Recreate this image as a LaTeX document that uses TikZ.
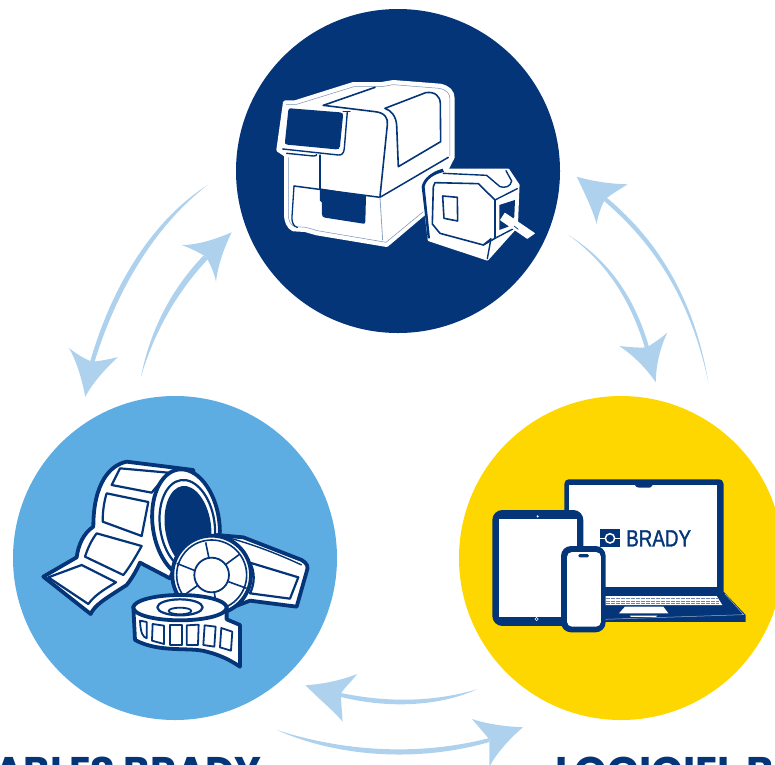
\documentclass[tikz,border=0pt]{standalone}
\usepackage{fontspec}
\newfontfamily\headfont{Poppins}
\newfontfamily\logofont[FakeStretch=0.8,FakeBold=1.2]{Liberation Sans}
\definecolor{navy}{HTML}{043578}
\definecolor{skyb}{HTML}{5DADE2}
\definecolor{yell}{HTML}{FFD700}
\definecolor{flow}{HTML}{AED2EE}
\tikzset{
  disc/.style={circle,minimum size=324pt,inner sep=0pt,outer sep=0pt,fill=#1},
  flowshape/.style={fill=flow,draw=none},
  ln/.style={draw=navy,line width=1.4pt,line join=round,line cap=round},
  roll/.style={draw=navy,line width=3.8pt,line join=round,fill=white},
  rollthin/.style={draw=navy,line width=2.2pt,line join=round,fill=white},
  head/.style={text=navy,inner sep=0pt,font=\headfont\bfseries\fontsize{40}{40}\selectfont},
  zoomA/.style={shift={(260,70)},x=0.3333pt,y=-0.3333pt},
  zoomB/.style={shift={(30,450)},x=0.3333pt,y=-0.3333pt},
  zoomC/.style={shift={(485,470)},x=0.3333pt,y=-0.3333pt},
}
\begin{document}
\begin{tikzpicture}[x=1pt,y=-1pt]
\useasboundingbox (0,0) rectangle (775,764);
\clip (0,0) rectangle (775,764);
\node[disc=navy] (top) at (398,171) {};
\node[disc=skyb] (left) at (175,558) {};
\node[disc=yell] (right) at (621,558) {};

% ---------- flow arrows
% left outer
\fill[flowshape] (207.7,185) .. controls (160,215) and (115,275) .. (90,362) -- (94.5,362) .. controls (120,279) and (163,219) .. cycle;
\fill[flowshape] (69,348) .. controls (78,355) and (85,359) .. (92,361.7) .. controls (101,361) and (110,359) .. (118,357) .. controls (104,370) and (92,384) .. (85.3,396.7) .. controls (82,380) and (77,362) .. cycle;
% left inner
\fill[flowshape] (141,376.7) .. controls (150,330) and (172,288) .. (204,255) -- (208,259) .. controls (176,293) and (154,333) .. cycle;
\fill[flowshape] (181.7,245) .. controls (198,245) and (216,239) .. (231.7,232.3) .. controls (224,248) and (218,265) .. (216,281.7) .. controls (214,272) and (210,264) .. (206,256.7) .. controls (198,252) and (190,248) .. cycle;
% right outer
\fill[flowshape] (708.3,382.3) .. controls (690,295) and (650,240) .. (603.5,200.5) -- (606.5,197.5) .. controls (654,237) and (694,295) .. cycle;
\fill[flowshape] (627.7,184.3) .. controls (610,184) and (592,181) .. (576.7,176.7) .. controls (584,192) and (592,208) .. (596.7,224) .. controls (598,215) and (601,207) .. (605,199.3) .. controls (612,194) and (620,189) .. cycle;
% right inner
\fill[flowshape] (568.3,235) .. controls (610,265) and (632,305) .. (645,348) -- (649,347) .. controls (636,302) and (612,262) .. cycle;
\fill[flowshape] (619.3,346) .. controls (629,347) and (638,348) .. (646.7,347.3) .. controls (654,343) and (661,338) .. (667.3,332.7) .. controls (660,348) and (656,365) .. (655.7,382.3) .. controls (646,368) and (634,356) .. cycle;
% bottom upper
\fill[flowshape] (477,689.3) .. controls (430,703) and (385,702) .. (341,693) -- (341,697) .. controls (390,709) and (440,706) .. cycle;
\fill[flowshape] (357,674) .. controls (342,680) and (324,684) .. (305.5,685.3) .. controls (320,700) and (335,712) .. (342.6,721.7) .. controls (342,712) and (341,702) .. (341,693.5) .. controls (345,687) and (352,681) .. cycle;
% bottom lower
\fill[flowshape] (276.8,730) .. controls (340,758) and (420,762) .. (489.4,742) -- (489.4,738) .. controls (420,756) and (345,752) .. cycle;
\fill[flowshape] (472,719) .. controls (487,724) and (505,726.5) .. (523,727.3) .. controls (510,738) and (495,755) .. (489.4,767) -- (489.4,739.3) .. controls (484,733) and (478,726) .. cycle;

% ---------- printer
\begin{scope}[zoomA]
\path[draw=white,line width=4pt,line join=round,fill=white] (75,97) -- (105,97) -- (280,42) -- (365,42) -- (400,36) -- (540,47) .. controls (565,52) and (578,65) .. (578,85) -- (578,262) -- (490,432) -- (380,525) -- (170,490) -- (135,480) -- (100,478) .. controls (85,470) and (78,455) .. (78,430) -- (78,255) -- (55,240) -- cycle;
\path[draw=navy,line width=0.5pt,line join=round,opacity=.55] (78,103) -- (110,103) -- (282,50) -- (365,50) -- (400,44) -- (538,55) .. controls (560,60) and (570,70) .. (570,88) -- (570,258);
\path[draw=navy,line width=0.5pt,line join=round,opacity=.55] (85,262) -- (85,430) .. controls (85,455) and (92,465) .. (105,470) -- (138,472) -- (172,482) -- (378,517) -- (490,425);
% screen
\fill[navy] (90,115) -- (240,127) .. controls (248,128) and (250,132) .. (249,138) -- (240,228) .. controls (239,236) and (235,239) .. (228,238) -- (82,224) .. controls (76,223) and (74,220) .. (75,215) -- (85,120) .. controls (85,116) and (87,115) .. cycle;
\draw[ln] (262,125) -- (253,235) .. controls (252,250) and (245,256) .. (235,255) -- (68,237);
\draw[ln] (250,125) -- (270,125);
\draw[ln] (80,250) -- (160,258) .. controls (168,258) and (170,256) .. (170,254);
% body lines
\draw[ln,line width=1.6pt] (190,106) -- (345,52);
\draw[ln,line width=1.6pt] (190,106) -- (345,125) .. controls (375,128) and (385,145) .. (382,165) -- (360,380);
\draw[ln,line width=1.2pt] (180,255) -- (180,358);
\draw[ln,line width=1.5pt] (102,348) -- (360,382) -- (565,262);
\draw[ln,line width=1.3pt] (102,348) -- (96,440) .. controls (95,462) and (103,470) .. (112,472);
\draw[ln,line width=.8pt,draw=navy!45] (360,382) -- (368,510);
% window
\draw[ln,line width=1.6pt] (375,115) -- (497,68) .. controls (525,64) and (540,78) .. (541,100) -- (542,215) -- (415,290) -- (410,165) .. controls (408,140) and (395,122) .. cycle;
% slot
\fill[navy] (180,355) -- (318,378) -- (316,455) .. controls (316,460) and (314,461) .. (310,461) -- (195,443) .. controls (188,442) and (186,438) .. (186,432) -- (186,398) -- (180,392) -- cycle;
% cartridge
\path[draw=white,line width=2.5pt,fill=white,line join=round] (552,300) -- (745,300) -- (775,345) -- (770,470) -- (682,568) -- (507,510) -- (488,350) .. controls (490,330) and (510,310) .. cycle;
\fill[navy] (548,296) .. controls (515,305) and (490,325) .. (485,350) -- (503,505) -- (510,505) -- (494,350) .. controls (498,330) and (520,312) .. (552,306) -- cycle;
\draw[ln,line width=1.4pt,line join=round] (550,310) -- (680,316) -- (720,350) .. controls (735,355) and (752,350) .. (755,333) -- (738,302);
\draw[ln,line width=1.6pt] (525,338) -- (655,341) -- (705,390) -- (705,505) -- (670,525) -- (540,490) -- (517,462) -- (520,350) -- cycle;
\draw[ln,line width=1.6pt] (548,378) -- (592,382) -- (593,453) -- (552,445) -- cycle;
\draw[ln,line width=1.4pt] (705,390) -- (772,356);
\draw[ln,line width=1.4pt] (705,505) -- (768,472);
\draw[ln,line width=1.4pt] (670,525) -- (693,506) -- (682,566);
\fill[navy] (718,405) -- (765,390) -- (763,440) -- (745,470) -- (718,480) -- cycle;
\draw[white,line width=1pt,fill=white,line join=round] (735,430) -- (823,490) -- (802,505) -- (722,450) -- cycle;
\draw[navy,line width=.7pt] (762,468) -- (775,478);
\end{scope}

% ---------- rolls
\begin{scope}[zoomB]
% big roll with strip
\draw[roll] (490,60) -- (290,35) .. controls (240,45) and (190,100) .. (190,230) .. controls (160,250) and (145,285) .. (140,322) -- (40,380) -- (182,492) .. controls (195,465) and (220,450) .. (290,405) .. controls (310,380) and (322,355) .. (330,338) -- (420,385) -- (500,200) -- cycle;
\draw[rollthin] (270,55) -- (415,68) -- (365,128) -- (245,105) -- cycle;
\draw[rollthin] (230,130) -- (355,156) -- (335,258) -- (218,215) .. controls (218,185) and (222,155) .. cycle;
\draw[rollthin] (200,250) -- (335,288) .. controls (320,315) and (300,350) .. (280,375) -- (165,320) .. controls (175,290) and (185,270) .. cycle;
\draw[rollthin] (155,345) -- (258,397) .. controls (220,420) and (195,435) .. (175,462) -- (55,382) -- cycle;
\draw[roll] (468,222) ellipse[x radius=100,y radius=165,rotate=8];
\draw[rollthin] (472,226) ellipse[x radius=82,y radius=137,rotate=8];
\fill[navy] (474,230) ellipse[x radius=69,y radius=123,rotate=8];
% reel strip
\draw[roll] (560,255) -- (640,262) -- (815,330) .. controls (832,340) and (836,350) .. (830,365) -- (800,470) -- (660,452) -- (600,475) -- (540,300) -- cycle;
\draw[rollthin] (660,338) -- (805,382) -- (780,446) -- (660,430) .. controls (675,400) and (675,365) .. cycle;
\draw[rollthin,line width=1.4pt] (590,262) .. controls (660,280) and (740,310) .. (815,345);
\draw[roll] (545,375) circle[radius=118];
\draw[rollthin,line width=1.6pt] (545,375) circle[radius=105];
\draw[rollthin,line width=1.6pt] (527,277) -- (537,325);
\draw[rollthin,line width=1.6pt] (630,312) -- (585,345);
\draw[rollthin,line width=1.6pt] (650,415) -- (595,395);
\draw[rollthin,line width=1.6pt] (440,340) -- (495,362);
\draw[rollthin,line width=1.6pt] (470,430) -- (505,405);
\draw[rollthin,line width=1.6pt] (560,470) -- (553,428);
\draw[rollthin,line width=1.8pt] (545,375) circle[radius=52];
% flat roll
\draw[roll] (310,470) -- (315,570) .. controls (390,610) and (480,590) .. (530,605) .. controls (570,615) and (600,630) .. (630,650) -- (630,525) -- (590,508) -- (590,470) -- cycle;
\draw[roll] (450,473) ellipse[x radius=140,y radius=38];
\draw[rollthin] (450,472) ellipse[x radius=68,y radius=24];
\draw[rollthin,line width=1.8pt] (450,483) ellipse[x radius=34,y radius=10];
\draw[rollthin,line width=1.8pt] (330,512) -- (350,516) -- (350,565) .. controls (338,560) and (332,550) .. cycle;
\draw[rollthin,line width=1.8pt] (368,522) -- (402,527) -- (402,582) -- (366,572) -- cycle;
\draw[rollthin,line width=1.8pt] (420,526) -- (455,526) -- (455,585) -- (420,585) -- cycle;
\draw[rollthin,line width=1.8pt] (470,526) -- (506,524) -- (504,585) -- (470,585) -- cycle;
\draw[rollthin,line width=1.8pt] (524,526) -- (557,530) -- (553,590) -- (520,585) -- cycle;
\draw[rollthin,line width=1.8pt] (574,534) -- (607,545) -- (603,602) -- (570,592) -- cycle;
\end{scope}

% ---------- devices
\begin{scope}[zoomC]
\fill[navy] (250,28) -- (700,28) .. controls (710,28) and (716,34) .. (716,42) -- (716,365) -- (782,435) -- (782,456) -- (350,456) -- (238,350) -- (238,42) .. controls (238,34) and (244,28) .. cycle;
\fill[white] (253,45) -- (697,45) -- (697,350) -- (253,350) -- cycle;
\fill[navy] (450,45) -- (503,45) .. controls (500,53) and (495,53) .. (490,53) -- (463,53) .. controls (455,53) and (452,50) .. cycle;
\fill[white] (350,378) -- (695,378) -- (712,405) -- (350,405) -- cycle;
\foreach \yy in {385,392,399} \draw[navy!60,line width=.3pt,dash pattern=on 4pt off 1pt] (362,\yy) -- (703,\yy);
\fill[white] (420,410) -- (535,410) -- (550,430) -- (402,430) -- cycle;
\fill[white] (435,437) -- (517,437) -- (513,441) -- (438,441) -- cycle;
\draw[white,line width=.5pt,opacity=.6] (720,372) -- (776,434) -- (360,448);
% logo
\fill[navy] (345,178) rectangle (405,232);
\fill[white] (345,203) rectangle (405,207);
\draw[white,line width=1.5pt,fill=navy] (375,205) circle[radius=14];
\node[font=\logofont\fontsize{23.5}{23.5}\selectfont,text=navy,anchor=center,inner sep=0pt] (brand) at (521,205) {BRADY};
% tablet
\fill[navy,rounded corners=10pt] (22,120) rectangle (295,468);
\fill[white] (42,148) rectangle (275,440);
\fill[white] (158,139) circle[radius=3.5];
\draw[white,line width=.5pt] (155,447) circle[radius=5];
% phone
\fill[navy,rounded corners=10pt] (228,228) rectangle (362,487);
\fill[white,rounded corners=5pt] (246,246) rectangle (348,470);
\fill[navy,rounded corners=1.5pt] (280,252) rectangle (312,262);
\end{scope}

% ---------- captions
\node[head,anchor=base east] (capleft) at (262,785) {CONSOMMABLES BRADY};
\node[head,anchor=base west] (capright) at (555,785) {\scalebox{1.037}[1]{LOGICIEL BRADY}};
\end{tikzpicture}
\end{document}
